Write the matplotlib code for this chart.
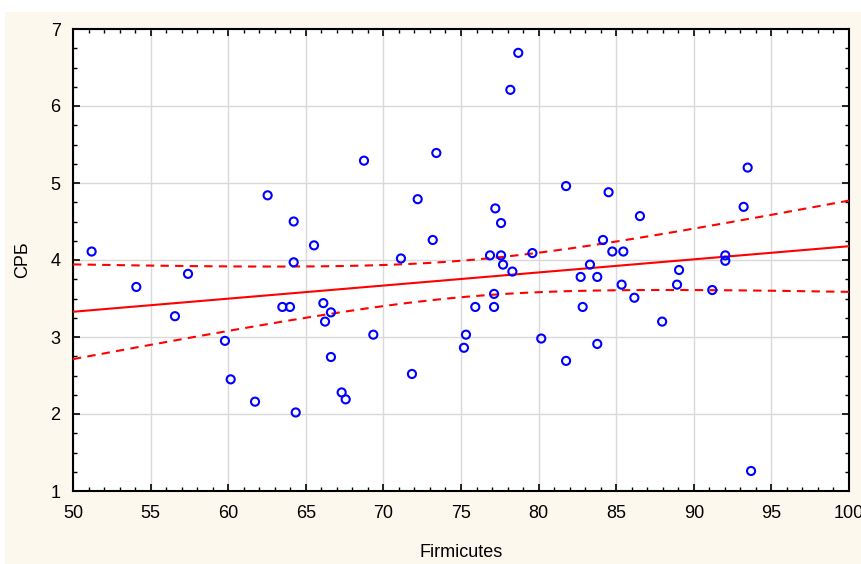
import numpy as np
import matplotlib
matplotlib.use("Agg")
import matplotlib.pyplot as plt
from matplotlib.ticker import MultipleLocator

plt.rcParams['font.family'] = ['Liberation Sans', 'DejaVu Sans']

firmicutes = [51.2, 54.08, 56.57, 57.41, 59.79, 60.16, 61.73, 62.54, 63.49, 63.98,
              64.22, 64.22, 64.35, 65.53, 66.13, 66.24, 66.62, 66.62, 67.31, 67.57,
              68.75, 69.35, 71.13, 71.84, 72.21, 73.18, 73.41, 75.19, 75.32, 75.92,
              76.87, 77.13, 77.13, 77.21, 77.58, 77.58, 77.71, 78.18, 78.31, 78.69,
              79.6, 80.17, 81.77, 81.77, 82.71, 82.84, 83.31, 83.78, 83.78, 84.15,
              84.51, 84.75, 85.35, 85.46, 86.17, 86.53, 87.96, 88.92, 89.05, 91.19,
              92.03, 92.03, 93.21, 93.47, 93.69]
crp = [4.11, 3.65, 3.27, 3.82, 2.95, 2.45, 2.16, 4.84, 3.39, 3.39,
       4.50, 3.97, 2.02, 4.19, 3.44, 3.20, 3.32, 2.74, 2.28, 2.19,
       5.29, 3.03, 4.02, 2.52, 4.79, 4.26, 5.39, 2.86, 3.03, 3.39,
       4.06, 3.56, 3.39, 4.67, 4.48, 4.06, 3.94, 6.21, 3.85, 6.69,
       4.09, 2.98, 4.96, 2.69, 3.78, 3.39, 3.94, 3.78, 2.91, 4.26,
       4.88, 4.11, 3.68, 4.11, 3.51, 4.57, 3.20, 3.68, 3.87, 3.61,
       4.06, 3.99, 4.69, 5.20, 1.26]

x_ticks = [50, 55, 60, 65, 70, 75, 80, 85, 90, 95, 100]
y_ticks = [1, 2, 3, 4, 5, 6, 7]
x_label = "Firmicutes"
y_label = "СРБ"

bg = '#fdf8ee'
fig = plt.figure(figsize=(8.62, 5.64), dpi=100, facecolor='white')
bgrect = plt.Rectangle((5/862, 0), 1, 1 - 12/564, transform=fig.transFigure,
                       facecolor=bg, edgecolor='none', zorder=-10)
fig.patches.append(bgrect)
ax = fig.add_axes([73/862, 1 - 491/564, (849 - 73)/862, (491 - 29)/564])
ax.set_zorder(1)
ax.set_facecolor('white')

x = np.array(firmicutes)
y = np.array(crp)
n = len(x)
b, a = np.polyfit(x, y, 1)
xs = np.linspace(50, 100, 200)
yh = a + b * xs
resid = y - (a + b * x)
s = np.sqrt(np.sum(resid**2) / (n - 2))
sxx = np.sum((x - x.mean())**2)
t = 1.998
se = s * np.sqrt(1/n + (xs - x.mean())**2 / sxx)

ax.plot(xs, yh, color='#ff0000', lw=1.5, zorder=3)
ax.plot(xs, yh + t*se, color='#ff0000', lw=1.5, ls=(0, (4, 3)), zorder=3)
ax.plot(xs, yh - t*se, color='#ff0000', lw=1.5, ls=(0, (4, 3)), zorder=3)
ax.scatter(x, y, s=34, facecolors='none', edgecolors='#0000ff', linewidths=1.5, zorder=4)

ax.set_xlim(50, 100)
ax.set_ylim(1, 7)
ax.set_xticks(x_ticks)
ax.set_yticks(y_ticks)
ax.xaxis.set_minor_locator(MultipleLocator(1))
ax.yaxis.set_minor_locator(MultipleLocator(0.25))
ax.grid(True, which='major', color='#d9d9d9', lw=1.0, zorder=0)
ax.set_axisbelow(True)
ax.tick_params(which='both', direction='in', top=True, right=True, labelsize=13, colors='black')
ax.tick_params(axis='x', which='major', length=5, width=1.2, pad=10)
ax.tick_params(axis='y', which='major', length=5, width=1.2, pad=9)
ax.tick_params(which='minor', length=3, width=1.0)
for sp in ax.spines.values():
    sp.set_linewidth(1.5)
    sp.set_color('black')

ax.set_xlabel(x_label, fontsize=13, labelpad=16)
ax.set_ylabel(y_label, fontsize=13, labelpad=14)

fig.savefig('out.png', dpi=100, facecolor=fig.get_facecolor())
